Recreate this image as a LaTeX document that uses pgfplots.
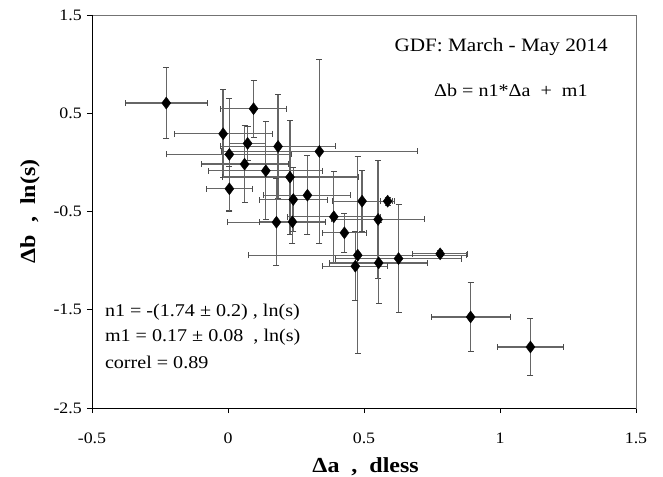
\documentclass[border=0pt]{standalone}
\usepackage{pgfplots}
\pgfplotsset{compat=1.18}
\usepackage{pgfplotstable}
\usetikzlibrary{calc}
\usepackage{fontspec}
\setmainfont[FakeStretch=1.12]{Liberation Serif}
\tikzset{tl/.style={font=\fontsize{16}{19}\selectfont, inner sep=0pt},
  an/.style={font=\fontsize{18}{21}\selectfont}}
\pgfplotstableread{
x y ex ey
-0.227 0.604 0.15 0.36
0.094 0.546 0.12 0.29
-0.018 0.291 0.18 0.45
0.072 0.193 0.065 0.17
0.184 0.162 0.21 0.53
0.005 0.081 0.23 0.57
0.336 0.111 0.36 0.94
0.061 -0.018 0.16 0.39
0.139 -0.086 0.21 0.50
0.228 -0.150 0.25 0.58
0.005 -0.269 0.085 0.23
0.240 -0.378 0.125 0.33
0.292 -0.334 0.16 0.40
0.493 -0.395 0.11 0.31
0.587 -0.395 0.025 0.04
0.389 -0.554 0.17 0.46
0.178 -0.609 0.18 0.44
0.237 -0.605 0.12 0.22
0.428 -0.717 0.08 0.20
0.552 -0.581 0.17 0.60
0.477 -0.945 0.40 1.00
0.780 -0.931 0.10 0.03
0.627 -0.979 0.23 0.55
0.554 -1.023 0.18 0.41
0.468 -1.057 0.12 0.35
0.892 -1.573 0.145 0.35
1.112 -1.879 0.12 0.29
}\data
\begin{document}
\begin{tikzpicture}
\begin{axis}[
  scale only axis, width=544bp, height=393bp,
  xmin=-0.5, xmax=1.5, ymin=-2.5, ymax=1.5,
  xtick={-0.5,0,0.5,1,1.5},
  ytick={-2.5,-1.5,-0.5,0.5,1.5},
  xticklabels={}, yticklabels={},
  tick align=outside, major tick length=5bp, tick pos=left,
  axis line style={black!55, line width=0.9pt},
  tick style={black, line width=0.9pt},
  clip=false,
]
\addplot[only marks, mark=none,
  error bars/.cd, x dir=both, x explicit, y dir=both, y explicit,
  error bar style={draw=black!60, line width=1.3pt},
  error mark options={rotate=90, mark size=3bp, line width=1pt, draw=black!70}]
  table[x=x, y=y, x error=ex, y error=ey] {\data};
\addplot[only marks, mark=diamond*, mark size=6bp, black] table[x=x, y=y] {\data};
\draw[black, line width=1pt] (rel axis cs:0,1) -- (rel axis cs:0,0) -- (rel axis cs:1,0);
\coordinate (ll) at (rel axis cs:0,0);
\coordinate (ur) at (rel axis cs:1,1);
% tick labels
\node[tl, anchor=base, yshift=-35bp] at (axis cs:-0.5,-2.5) {-0.5};
\node[tl, anchor=base, yshift=-35bp] at (axis cs:0,-2.5) {0};
\node[tl, anchor=base, yshift=-35bp] at (axis cs:0.5,-2.5) {0.5};
\node[tl, anchor=base, yshift=-35bp] at (axis cs:1,-2.5) {1};
\node[tl, anchor=base, yshift=-35bp] at (axis cs:1.5,-2.5) {1.5};
\node[tl, anchor=east, xshift=-10bp] at (axis cs:-0.5,-2.5) {-2.5};
\node[tl, anchor=east, xshift=-10bp] at (axis cs:-0.5,-1.5) {-1.5};
\node[tl, anchor=east, xshift=-10bp] at (axis cs:-0.5,-0.5) {-0.5};
\node[tl, anchor=east, xshift=-10bp] at (axis cs:-0.5,0.5) {0.5};
\node[tl, anchor=east, xshift=-10bp] at (axis cs:-0.5,1.5) {1.5};
% annotations
\node[font=\fontsize{19}{22}\selectfont] at (axis cs:1.004,1.175) {GDF: March - May 2014};
\node[an] at (axis cs:1.04,0.738) {Δb = n1*Δa \ + \ m1};
\node[an, anchor=west] at (axis cs:-0.465,-1.528) {n1 = -(1.74 ± 0.2) , ln(s)};
\node[an, anchor=west] at (axis cs:-0.465,-1.783) {m1 = 0.17 ± 0.08 \ , ln(s)};
\node[an, anchor=west] at (axis cs:-0.465,-2.038) {correl = 0.89};
\end{axis}
\node[font=\bfseries\fontsize{21.5}{25}\selectfont, anchor=base] at ([yshift=-64bp]$(ll)!0.503!(ll-|ur)$) {Δa \ , \ dless};
\node[font=\bfseries\fontsize{21.5}{25}\selectfont, rotate=90] at ([xshift=-62bp]$(ll)!0.5!(ll|-ur)$) {Δb \ , \ ln(s)};
\pgfresetboundingbox
\path[use as bounding box] ([shift={(-92bp,-69bp)}]ll) rectangle ([shift={(27bp,15bp)}]ur);
\end{tikzpicture}
\end{document}
